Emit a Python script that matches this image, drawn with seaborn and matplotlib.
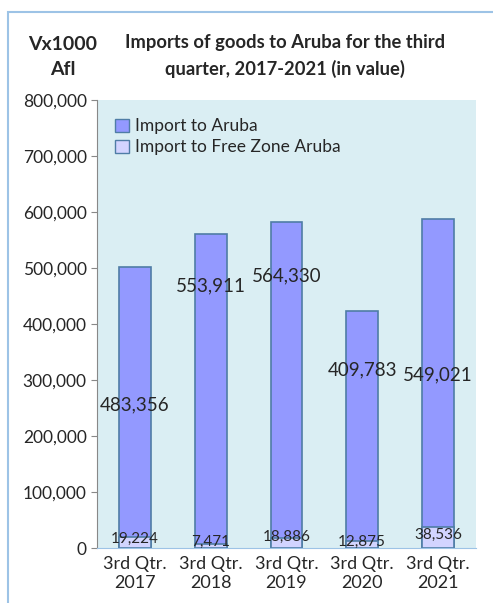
import matplotlib.pyplot as plt
import matplotlib.patches as mpatches
from matplotlib.ticker import FuncFormatter
import pandas as pd
import seaborn as sns

quarters = ["3rd Qtr.\n2017", "3rd Qtr.\n2018", "3rd Qtr.\n2019", "3rd Qtr.\n2020", "3rd Qtr.\n2021"]
import_aruba = [483356, 553911, 564330, 409783, 549021]
import_free_zone = [19224, 7471, 18886, 12875, 38536]
# label heights as placed in the original (data units)
aruba_label_y = [255000, 468000, 487000, 318000, 310000]
free_label_y = [4000, -1000, 7000, -1000, 11000]

sns.set_style("white")
plt.rcParams["font.family"] = ["Lato", "DejaVu Sans"]

df = pd.DataFrame({"quarter": quarters, "aruba": import_aruba, "free": import_free_zone})
df["total"] = df["aruba"] + df["free"]

col_aruba = "#9399FF"
col_free = "#D2D4FF"
edge = "#4F7DA6"

fig = plt.figure(figsize=(4.93, 6.03), dpi=100)
ax = fig.add_axes([0.197, 0.091, 0.768, 0.743])
ax.set_facecolor("#DAEEF3")

sns.barplot(data=df, x="quarter", y="total", color=col_aruba, edgecolor=edge,
            linewidth=1.2, width=0.42, saturation=1, ax=ax)
sns.barplot(data=df, x="quarter", y="free", color=col_free, edgecolor=edge,
            linewidth=1.2, width=0.42, saturation=1, ax=ax)

for i, (v, y) in enumerate(zip(df["aruba"], aruba_label_y)):
    ax.text(i, y, f"{v:,}", ha="center", va="center", fontsize=13.5)
for i, (v, y) in enumerate(zip(df["free"], free_label_y)):
    ax.text(i, y, f"{v:,}", ha="center", va="bottom", fontsize=11)

ax.set_ylim(0, 800000)
ax.set_yticks(range(0, 800001, 100000))
ax.yaxis.set_major_formatter(FuncFormatter(lambda v, p: f"{int(v):,}"))
ax.tick_params(axis="y", labelsize=12.5, length=4, left=True, color="#888888")
ax.tick_params(axis="x", labelsize=13, length=0, pad=6)
ax.set_xlabel("")
ax.set_ylabel("")
for s in ["top", "right"]:
    ax.spines[s].set_visible(False)
ax.spines["left"].set_color("#888888")
ax.spines["bottom"].set_color("#9DC3E6")

handles = [mpatches.Patch(facecolor=col_aruba, edgecolor=edge, label="Import to Aruba"),
           mpatches.Patch(facecolor=col_free, edgecolor=edge, label="Import to Free Zone Aruba")]
ax.legend(handles=handles, loc="upper left", bbox_to_anchor=(0.03, 0.975), frameon=False,
          fontsize=12.5, handlelength=0.8, handleheight=0.8, handletextpad=0.3,
          labelspacing=0.3, borderaxespad=0)

fig.text(0.578, 0.907, "Imports of goods to Aruba for the third\nquarter, 2017-2021 (in value)",
         ha="center", va="center", fontsize=13.2, fontweight="bold", linespacing=1.6)
fig.text(0.127, 0.905, "Vx1000\nAfl", ha="center", va="center", fontsize=14,
         fontweight="bold", linespacing=1.6)

fig.patches.append(mpatches.Rectangle((0.016, -0.1), 1.2, 0.08 + 1.0, transform=fig.transFigure,
                                      fill=False, edgecolor="#9DC3E6", linewidth=1.5))

fig.savefig("out.png", dpi=100)
